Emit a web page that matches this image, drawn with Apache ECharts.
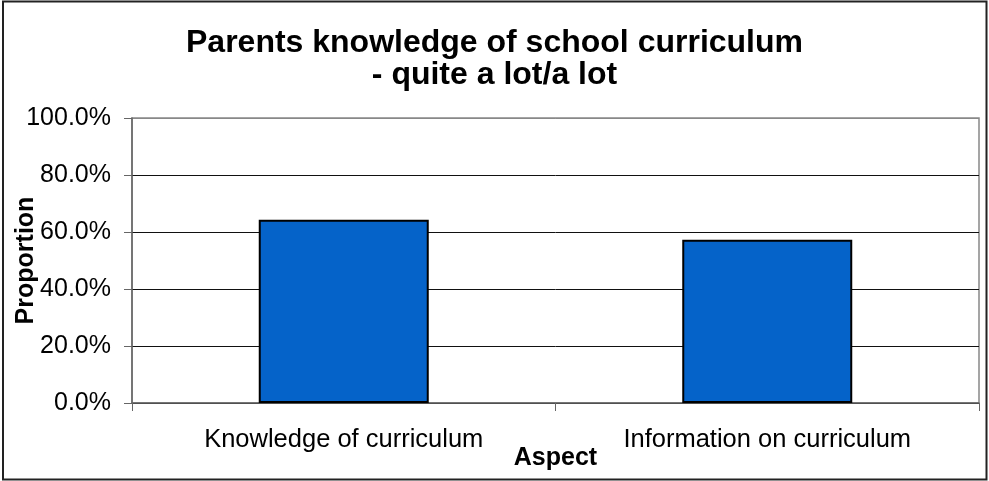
<!DOCTYPE html>
<html>
<head>
<meta charset="utf-8">
<script src="https://cdn.jsdelivr.net/npm/echarts@6/dist/echarts.min.js"></script>
<style>
  html, body { margin: 0; padding: 0; background: #fff; }
  #chart { width: 989px; height: 481px; }
</style>
</head>
<body>
<div id="chart"></div>
<script>
// data
var categories = ['Knowledge of curriculum', 'Information on curriculum'];
var proportion = [64.3, 57.3];
var yTicks = [0, 20, 40, 60, 80, 100];

var chart = echarts.init(document.getElementById('chart'));

var option = {
    backgroundColor: '#fff',
    animation: false,
    title: {
        text: 'Parents knowledge of school curriculum\n- quite a lot/a lot',
        left: 'center',
        top: 22,
        textStyle: {
            fontFamily: 'Liberation Sans, Arial, sans-serif',
            fontWeight: 'bold',
            fontSize: 32,
            lineHeight: 32,
            color: '#000'
        }
    },
    graphic: [
        {   // outer frame
            type: 'rect',
            shape: { x: 3, y: 1.5, width: 983.5, height: 478 },
            style: { fill: null, stroke: '#222', lineWidth: 2 },
            z: 100
        }
    ],
    grid: {
        left: 132,
        right: 10,
        top: 118,
        bottom: 78,
        containLabel: false,
        outerBoundsMode: 'none',
        show: true,
        borderColor: '#888',
        borderWidth: 1.5,
        backgroundColor: '#fff'
    },
    xAxis: {
        type: 'category',
        data: categories,
        name: 'Aspect',
        nameLocation: 'middle',
        nameGap: 43,
        nameMoveOverlap: false,
        nameTextStyle: {
            fontFamily: 'Liberation Sans, Arial, sans-serif',
            fontWeight: 'bold',
            fontSize: 25,
            color: '#000'
        },
        axisLine: { lineStyle: { color: '#666', width: 1.5 } },
        axisTick: { show: true, length: 8, lineStyle: { color: '#666' } },
        axisLabel: {
            margin: 24,
            fontFamily: 'Liberation Sans, Arial, sans-serif',
            fontSize: 25.5,
            color: '#000'
        }
    },
    yAxis: {
        type: 'value',
        min: yTicks[0],
        max: yTicks[yTicks.length - 1],
        interval: 20,
        name: 'Proportion',
        nameLocation: 'middle',
        nameGap: 93,
        nameRotate: 90,
        nameMoveOverlap: false,
        nameTextStyle: {
            fontFamily: 'Liberation Sans, Arial, sans-serif',
            fontWeight: 'bold',
            fontSize: 25,
            color: '#000'
        },
        axisLine: { show: true, lineStyle: { color: '#666', width: 1.5 } },
        axisTick: { show: true, length: 8, lineStyle: { color: '#666' } },
        splitLine: {
            show: true,
            lineStyle: { color: ['#111', '#111', '#111', '#111', '#111', '#888'], width: 1 }
        },
        axisLabel: {
            margin: 21,
            fontFamily: 'Liberation Sans, Arial, sans-serif',
            fontSize: 25,
            color: '#000',
            formatter: function (v) { return v.toFixed(1) + '%'; }
        }
    },
    series: [
        {
            name: 'Proportion',
            type: 'bar',
            data: proportion,
            barWidth: 170,
            itemStyle: {
                color: '#0563C9',
                borderColor: '#000',
                borderWidth: 2
            }
        }
    ]
};

chart.setOption(option);
</script>
</body>
</html>
